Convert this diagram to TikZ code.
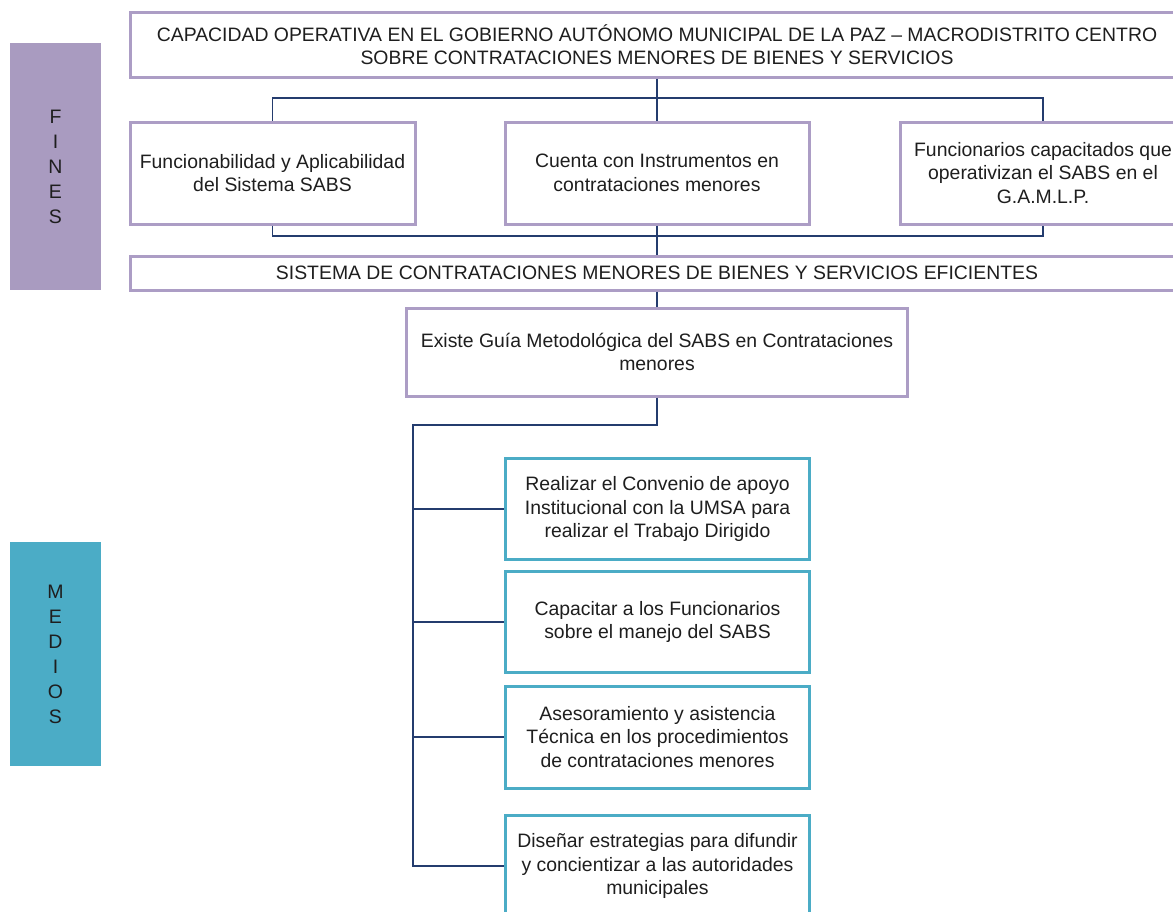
\documentclass[tikz,border=0pt]{standalone}
\usepackage{fontspec}
\setmainfont{Liberation Sans}
\definecolor{lila}{HTML}{A99BC0}
\definecolor{lilaline}{HTML}{AC9DC5}
\definecolor{teal}{HTML}{4BACC6}
\definecolor{navy}{HTML}{243C6E}
\definecolor{ink}{HTML}{1E1E1E}
\begin{document}
\begin{tikzpicture}[x=1pt,y=-1pt,
  txt/.style={font=\fontsize{19.4}{23.5}\selectfont, text=ink, align=center},
  finbox/.style={txt, draw=lilaline, line width=3pt, fill=white, inner sep=0pt},
  medbox/.style={txt, draw=teal, line width=3pt, fill=white, inner sep=0pt},
  side/.style={font=\fontsize{19.5}{25}\selectfont, text=ink, align=center, inner sep=0pt,
    minimum width=91pt},
  link/.style={draw=navy, line width=1.7pt}]
\useasboundingbox (0,0) rectangle (1173,911);
\clip (0,0) rectangle (1173,911);

% side labels
\node[side, fill=lila, minimum height=247pt] (fines) at (55.5,166.5) {F\\I\\N\\E\\S};
\node[side, fill=teal, minimum height=224pt] (medios) at (55.5,654) {M\\E\\D\\I\\O\\S};

% FINES: goal and its results
\node[finbox, minimum width=1054pt, minimum height=65pt] (goal) at (657,44.5)
  {CAPACIDAD OPERATIVA EN EL GOBIERNO AUTÓNOMO MUNICIPAL DE LA PAZ – MACRODISTRITO CENTRO\\
   SOBRE CONTRATACIONES MENORES DE BIENES Y SERVICIOS};
\node[finbox, minimum width=285pt, minimum height=102pt] (f1) at (272.5,173)
  {Funcionabilidad y Aplicabilidad\\del Sistema SABS};
\node[finbox, minimum width=304pt, minimum height=102pt] (f2) at (657,173)
  {Cuenta con Instrumentos en\\contrataciones menores};
\node[finbox, minimum width=285pt, minimum height=102pt] (f3) at (1043,173)
  {Funcionarios capacitados que\\operativizan el SABS en el\\G.A.M.L.P.};
\node[finbox, minimum width=1054pt, minimum height=34pt] (sys) at (657,273)
  {SISTEMA DE CONTRATACIONES MENORES DE BIENES Y SERVICIOS EFICIENTES};
\node[finbox, minimum width=501pt, minimum height=88pt] (guide) at (657,352)
  {Existe Guía Metodológica del SABS en Contrataciones\\menores};

% MEDIOS: actions
\node[medbox, minimum width=304pt, minimum height=101pt] (m1) at (657.5,509)
  {Realizar el Convenio de apoyo\\Institucional con la UMSA para\\realizar el Trabajo Dirigido};
\node[medbox, minimum width=304pt, minimum height=101pt] (m2) at (657.5,622)
  {Capacitar a los Funcionarios\\sobre el manejo del SABS};
\node[medbox, minimum width=304pt, minimum height=102pt] (m3) at (657.5,737)
  {Asesoramiento y asistencia\\Técnica en los procedimientos\\de contrataciones menores};
\node[medbox, minimum width=304pt, minimum height=102pt] (m4) at (657.5,866)
  {Diseñar estrategias para difundir\\y concientizar a las autoridades\\municipales};

% connectors
\coordinate (bustop) at (657,98);
\coordinate (busbot) at (657,236);
\coordinate (trunk) at (413,425);
\draw[link] (goal.south) -- (f2.north);
\draw[link] (f1.north) |- (bustop) -| (f3.north);
\draw[link] (f1.south) |- (busbot) -| (f3.south);
\draw[link] (f2.south) -- (sys.north);
\draw[link] (sys.south) -- (guide.north);
\draw[link] (guide.south) |- (trunk) |- (m4.west);
\draw[link] (trunk |- m1.west) -- (m1.west);
\draw[link] (trunk |- m2.west) -- (m2.west);
\draw[link] (trunk |- m3.west) -- (m3.west);
\end{tikzpicture}
\end{document}
